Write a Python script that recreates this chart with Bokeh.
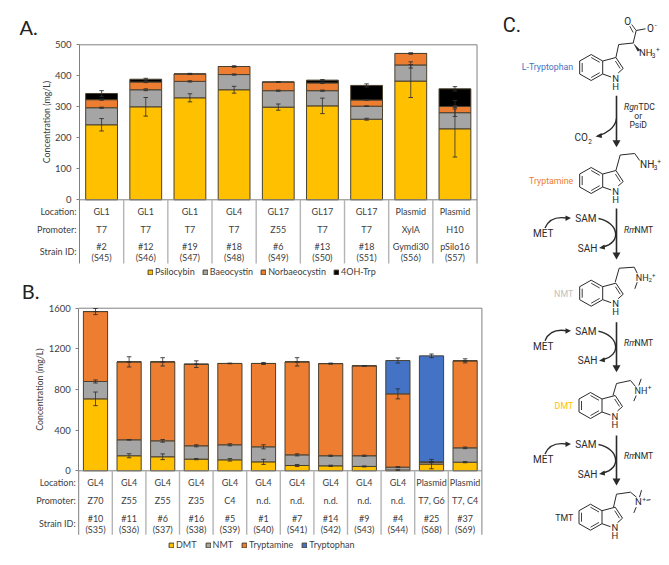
from bokeh.plotting import figure
from bokeh.layouts import row, column
from bokeh.models import (ColumnDataSource, Range1d, Legend, LegendItem, Whisker, TeeHead, FixedTicker)
from bokeh.core.properties import value
from bokeh.embed import file_html
from bokeh.resources import INLINE

# ---------- panel A data ----------
a_location = ["GL1", "GL1", "GL1", "GL4", "GL17", "GL17", "GL17", "Plasmid", "Plasmid"]
a_promoter = ["T7", "T7", "T7", "T7", "Z55", "T7", "T7", "XylA", "H10"]
a_strain = ["#2", "#12", "#19", "#18", "#6", "#13", "#18", "Gymdi30", "pSilo16"]
a_sid = ["(S45)", "(S46)", "(S47)", "(S48)", "(S49)", "(S50)", "(S51)", "(S56)", "(S57)"]
psilocybin = [242, 300, 329, 355, 299, 303, 260, 383, 229]
baeocystin = [55, 55, 53, 49, 53, 49, 42, 52, 52]
norbaeocystin = [26, 25, 24, 26, 28, 25, 20, 37, 20]
oh_trp = [20, 9, 0, 0, 0, 9, 47, 0, 57]
psilocybin_err = [20, 30, 13, 11, 10, 25, 3, 53, 91]
baeocystin_err = [2, 3, 2, 2, 2, 2, 1, 10, 12]
norbaeocystin_err = [2, 2, 2, 2, 1, 2, 1, 2, 3]
oh_trp_err = [9, 3, 1, 1, 1, 2, 5, 1, 7]

# ---------- panel B data ----------
b_location = ["GL4"] * 10 + ["Plasmid", "Plasmid"]
b_promoter = ["Z70", "Z55", "Z55", "Z35", "C4", "n.d.", "n.d.", "n.d.", "n.d.", "n.d.", "T7, G6", "T7, C4"]
b_strain = ["#10", "#11", "#6", "#16", "#5", "#1", "#7", "#14", "#9", "#4", "#25", "#37"]
b_sid = ["(S35)", "(S36)", "(S37)", "(S38)", "(S39)", "(S40)", "(S41)", "(S42)", "(S43)", "(S44)", "(S68)", "(S69)"]
dmt = [708, 148, 138, 115, 108, 88, 52, 49, 43, 7, 66, 85]
nmt = [171, 157, 157, 131, 148, 148, 105, 99, 105, 29, 19, 141]
tryptamine = [688, 767, 777, 803, 800, 820, 915, 907, 885, 721, 3, 856]
tryptophan = [0, 0, 0, 0, 0, 0, 0, 0, 0, 328, 1043, 0]
dmt_err = [67, 20, 28, 6, 12, 25, 10, 6, 5, 2, 46, 6]
nmt_err = [15, 3, 13, 10, 10, 20, 10, 6, 6, 5, 5, 8]
tryptamine_err = [30, 50, 41, 33, 3, 10, 41, 5, 3, 49, 3, 20]
tryptophan_err = [0, 0, 0, 0, 0, 0, 0, 0, 0, 25, 18, 0]

SERIES_COLORS = {"Psilocybin": "#FFC000", "Baeocystin": "#A5A5A5", "Norbaeocystin": "#ED7D31",
                 "4OH-Trp": "#000000", "DMT": "#FFC000", "NMT": "#A5A5A5",
                 "Tryptamine": "#ED7D31", "Tryptophan": "#4472C4"}

FONT = "Lato"
DARK = "#404040"
AXIS = "#808080"
SEP = "#b4b4b4"
LEFT_W = 488


def panel(letter, series, errs, rows, ymax, ticks, geom, legend_spec):
    left, cat_w, y_top, y_zero, fig_top, fig_bot, table_bot = geom
    n = len(rows[0])
    H = fig_bot - fig_top
    sy = (y_zero - y_top) / ymax
    p = figure(width=LEFT_W, height=H, output_backend="svg", toolbar_location=None,
               x_range=Range1d(-left / cat_w, (LEFT_W - left) / cat_w),
               y_range=Range1d(-(fig_bot - y_zero) / sy, ymax + (y_top - fig_top) / sy),
               min_border=0, min_border_left=0, min_border_right=0, min_border_top=0, min_border_bottom=0,
               outline_line_color=None, background_fill_color="white")
    p.grid.visible = False
    p.xaxis.visible = False
    ya = p.yaxis[0]
    ya.fixed_location = 0
    ya.bounds = (0, ymax)
    ya.ticker = FixedTicker(ticks=ticks)
    ya.axis_line_color = AXIS
    ya.major_tick_line_color = AXIS
    ya.major_tick_out = 3
    ya.major_tick_in = 0
    ya.minor_tick_line_color = None
    ya.major_label_text_font = FONT
    ya.major_label_text_font_size = "9.5px"
    ya.major_label_text_color = DARK
    ya.major_label_standoff = 5
    ya.axis_label = "Concentration (mg/L)"
    ya.axis_label_text_font = FONT
    ya.axis_label_text_font_style = "normal"
    ya.axis_label_text_font_size = "8.8px"
    ya.axis_label_text_color = DARK
    ya.axis_label_standoff = geom_standoff[letter]

    xs = [i + 0.5 for i in range(n)]
    names = list(series)
    src = ColumnDataSource(dict(x=xs, **series))
    rs = p.vbar_stack(names, x="x", width=0.72, source=src,
                      color=[SERIES_COLORS[k] for k in names],
                      line_color="#4a4030", line_width=1)

    cum = [0] * n
    for k in names:
        cum = [c + v for c, v in zip(cum, series[k])]
        e = errs[k]
        es = ColumnDataSource(dict(base=xs, lower=[c - d for c, d in zip(cum, e)],
                                   upper=[c + d for c, d in zip(cum, e)]))
        w = Whisker(base="base", lower="lower", upper="upper", source=es, dimension="height",
                    level="overlay", line_color="#303030", line_width=0.8,
                    upper_head=TeeHead(size=4.5, line_color="#303030", line_width=0.9),
                    lower_head=TeeHead(size=4.5, line_color="#303030", line_width=0.9))
        p.add_layout(w)

    # frame lines and table separators
    p.line([0, n], [ymax, ymax], line_color=AXIS, line_width=1)
    p.line([0, n], [0, 0], line_color=AXIS, line_width=1)
    low = -(table_bot - y_zero) / sy
    p.segment(x0=[n, 0], y0=[ymax, 0], x1=[n, 0], y1=[low, low], line_color=AXIS, line_width=1)
    seps = list(range(1, n))
    p.segment(x0=seps, y0=[0] * len(seps), x1=seps, y1=[low] * len(seps), line_color=SEP, line_width=1.4)

    # table text
    loc, prom, strain, sid = rows
    off = table_off[letter]
    kw = dict(text_font=value(FONT), text_font_size="9px", text_color=DARK, text_baseline="middle")
    for col, dy in zip((loc, prom, strain, sid), off[:4]):
        p.text(x=xs, y=[0] * n, text=col, y_offset=dy, text_align="center", **kw)
    for lab, dy in zip(("Location:", "Promoter:", "Strain ID:"), off[4:]):
        p.text(x=[0], y=[0], text=[lab], x_offset=-3, y_offset=dy, text_align="right", **kw)

    p.text(x=[0], y=[ymax], text=[letter + "."], x_offset=letter_pos[letter][0], y_offset=letter_pos[letter][1],
           text_font=value(FONT), text_font_size="20px", text_color="#222222", text_baseline="middle")

    leg = Legend(items=[LegendItem(label=k, renderers=[r]) for k, r in zip(names, rs)],
                 orientation="horizontal", location=legend_spec[0], spacing=legend_spec[1],
                 glyph_width=6, glyph_height=6, label_standoff=2, padding=0, margin=0,
                 border_line_color=None, background_fill_alpha=0,
                 label_text_font=FONT, label_text_font_size="9px", label_text_color=DARK,
                 label_height=10)
    p.add_layout(leg)
    return p


geom_standoff = {"A": 0, "B": 0}
table_off = {"A": [12, 30, 47, 58, 12, 30, 52], "B": [12, 30, 47.5, 58.5, 12, 30, 53]}
letter_pos = {"A": (-60, -18), "B": (-57, -17)}

pa = panel("A",
           {"Psilocybin": psilocybin, "Baeocystin": baeocystin, "Norbaeocystin": norbaeocystin, "4OH-Trp": oh_trp},
           {"Psilocybin": psilocybin_err, "Baeocystin": baeocystin_err, "Norbaeocystin": norbaeocystin_err, "4OH-Trp": oh_trp_err},
           (a_location, a_promoter, a_strain, a_sid), 500, [0, 100, 200, 300, 400, 500],
           (79, 44.17, 44.3, 199.3, 0, 277, 263), ((147, 0), 7))
pb = panel("B",
           {"DMT": dmt, "NMT": nmt, "Tryptamine": tryptamine, "Tryptophan": tryptophan},
           {"DMT": dmt_err, "NMT": nmt_err, "Tryptamine": tryptamine_err, "Tryptophan": tryptophan_err},
           (b_location, b_promoter, b_strain, b_sid), 1600, [0, 400, 800, 1200, 1600],
           (78.2, 33.6, 307.7, 470.3, 277, 560, 534.3), ((168, 10), 8))

# ---------- panel C: pathway scheme, drawn in page pixels ----------
pc = figure(width=180, height=560, output_backend="svg", toolbar_location=None,
            x_range=Range1d(488, 668), y_range=Range1d(560, 0),
            min_border=0, outline_line_color=None, background_fill_color="white")
pc.grid.visible = False
pc.axis.visible = False

INK = "#2a2a2a"
CHEM = "Roboto"


def label(x, y, s, size="10px", color=INK, align="center", style="normal", base="middle"):
    pc.text(x=[x], y=[y], text=[s], text_font=value(CHEM), text_font_size=size, text_color=color,
            text_align=align, text_baseline=base, text_font_style=style)


def bond(pts, w=1.0):
    pc.line([q[0] for q in pts], [q[1] for q in pts], line_color=INK, line_width=w, line_join="round")


def indole(cx, cy):
    def T(pts):
        return [(cx + a, cy + b) for a, b in pts]
    hexa = [(0, -13), (11.5, -6.5), (11.5, 6.5), (0, 13), (-11.5, 6.5), (-11.5, -6.5), (0, -13)]
    bond(T(hexa))
    bond(T([(11.5, -6.5), (24.7, -10), (32, 1), (27, 5.5)]))
    bond(T([(20, 9.5), (11.5, 6.5)]))
    bond(T([(-9, -4.5), (-9, 4.5)]), 0.9)
    bond(T([(0, -10), (8.5, -5.2)]), 0.9)
    bond(T([(0, 10), (8.5, 5.2)]), 0.9)
    bond(T([(24.2, -6.5), (29, 1)]), 0.9)
    label(cx + 24.5, cy + 10.5, "N", "9.5px")
    label(cx + 24.5, cy + 18.5, "H", "9.5px")


def down_arrow(x, y0, y1):
    pc.line([x, x], [y0, y1 - 6], line_color=INK, line_width=1.6)
    pc.patch([x - 4, x + 4, x], [y1 - 7, y1 - 7, y1], color=INK, line_width=0)


def curve(p0, c0, c1, p1, head):
    pc.bezier(x0=[p0[0]], y0=[p0[1]], cx0=[c0[0]], cy0=[c0[1]], cx1=[c1[0]], cy1=[c1[1]],
              x1=[p1[0]], y1=[p1[1]], line_color=INK, line_width=1.4)
    pc.patch([q[0] for q in head], [q[1] for q in head], color=INK, line_width=0)


# L-Tryptophan
cx = 590.7
cy = 67
indole(cx, cy)
bond([(cx + 24.7, cy - 10), (cx + 27.5, cy - 23), (cx + 42, cy - 24.5)])
bond([(cx + 42, cy - 24.5), (cx + 45, cy - 37), (cx + 54.3, cy - 38.7)])
bond([(cx + 42, cy - 35), (cx + 38.5, cy - 41.5)], 0.9)
bond([(cx + 45, cy - 37), (cx + 40.5, cy - 43)], 0.9)
pc.patch([cx + 42, cx + 49, cx + 46.5], [cy - 24.5, cy - 17.5, cy - 16], color=INK, line_width=0)
label(cx + 36.5, cy - 46.5, "O")
label(cx + 59.3, cy - 39, "O")
label(cx + 64.5, cy - 42.5, "-", "7px")
label(cx + 54.5, cy - 15, "NH", "9.5px")
label(cx + 62.5, cy - 12.5, "3", "6.5px")
label(cx + 66.6, cy - 18, "+", "6.5px")
label(572.7, 66.7, "L-Tryptophan", "8.8px", "#4472C4", "right")

down_arrow(616, 95.3, 146.7)
curve((616, 118), (615, 127), (606, 133), (597, 135.5), [(595, 136), (601, 132.5), (601.5, 137.5)])
label(580.7, 137, "CO", "10px")
label(589.5, 140.5, "2", "6.5px")
label(623.5, 106, "Rgn", "8.6px", align="left", style="italic")
label(638, 106, "TDC", "8.6px", align="left")
label(637.7, 115.7, "or", "8.6px")
label(637.7, 124, "PsiD", "8.6px")

# Tryptamine
cy = 180
indole(cx, cy)
bond([(cx + 24.7, cy - 10), (cx + 29, cy - 25.5), (cx + 43.5, cy - 27), (cx + 48.5, cy - 20)])
label(cx + 56, cy - 16, "NH")
label(cx + 64.3, cy - 13.5, "3", "6.5px")
label(cx + 68, cy - 19, "+", "6.5px")
label(572.7, 180, "Tryptamine", "8.8px", "#ED7D31", "right")

# NMT
cy = 292.7
indole(cx, cy)
bond([(cx + 24, cy - 11), (cx + 28, cy - 25), (cx + 43, cy - 26), (cx + 46, cy - 20)])
bond([(cx + 46, cy - 11), (cx + 43.6, cy - 4.4)])
label(cx + 51, cy - 15.5, "NH", "9px")
label(cx + 59, cy - 13, "2", "6px")
label(cx + 62.5, cy - 18, "+", "6px")
label(572.7, 293, "NMT", "8.8px", "#BFBFBF", "right")

# DMT
cx2 = 590
cy = 405
indole(cx2, cy)
bond([(cx2 + 22.5, cy - 10), (cx2 + 26, cy - 22), (cx2 + 40, cy - 25), (cx2 + 45, cy - 19)])
bond([(cx2 + 50.7, cy - 26.7), (cx2 + 48.3, cy - 20)])
bond([(cx2 + 45.7, cy - 10), (cx2 + 43.3, cy - 4.3)])
label(cx2 + 50.5, cy - 15, "NH", "9px")
label(cx2 + 59, cy - 18, "+", "6.5px")
label(572.7, 405.5, "DMT", "8.8px", "#FFC000", "right")

# TMT
cy = 516.7
indole(cx2, cy)
bond([(cx2 + 23, cy - 10), (cx2 + 26, cy - 23), (cx2 + 40, cy - 25), (cx2 + 46, cy - 20)])
bond([(cx2 + 51, cy - 27), (cx2 + 49, cy - 20)])
bond([(cx2 + 45.7, cy - 10), (cx2 + 43.3, cy - 4.3)])
bond([(cx2 + 56, cy - 17), (cx2 + 60, cy - 17.5)])
label(cx2 + 48, cy - 15.5, "N", "9.5px")
label(cx2 + 53.5, cy - 18, "+", "6.5px")
label(572.7, 517.3, "TMT", "8.8px", INK, "right")

# methylation steps
for dy in (0, 112.7, 226):
    down_arrow(616, 208 + dy + (0 if dy == 0 else 1), 259 + dy)
    label(585.3, 218 + dy, "SAM")
    label(587, 247.7 + dy, "SAH")
    label(542.7, 233.3 + dy, "MET")
    curve((544.5, 227.5 + dy), (548, 219 + dy), (556, 216 + dy), (566, 217.5 + dy),
          [(570.5, 217.5 + dy), (565, 215 + dy), (565, 220.5 + dy)])
    curve((598, 218 + dy), (618, 222 + dy), (622, 242 + dy), (602, 246.5 + dy),
          [(598.5, 247.5 + dy), (604, 244 + dy), (604.5, 249 + dy)])
    label(623.5, 229.3 + dy, "Rm", "8.6px", align="left", style="italic")
    label(634, 229.3 + dy, "NMT", "8.6px", align="left")

label(511.5, 24, "C.", "20px", "#222222")

page = row(column(pa, pb, spacing=0), pc, spacing=0)
open("out.html", "w").write(file_html(page, INLINE))
